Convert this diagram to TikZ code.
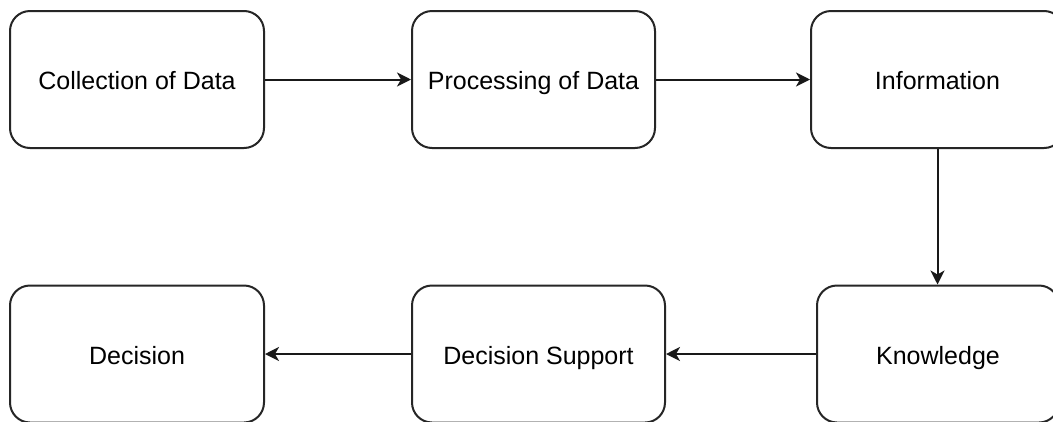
\documentclass[tikz,border=0pt]{standalone}
\usepackage{fontspec}
\setmainfont{Liberation Sans}
\usetikzlibrary{arrows.meta}
\begin{document}
\begin{tikzpicture}[x=1pt,y=-1pt,
  stage/.style={draw=black!85, line width=2pt, rounded corners=20pt, fill=white,
    rectangle, minimum height=137pt, inner sep=0pt, text height=21pt, text depth=1pt,
    font=\fontsize{25pt}{30pt}\selectfont},
  flow/.style={draw=black!90, line width=2pt,
    -{Stealth[length=14pt,width=14pt,inset=4pt]}}]
  \useasboundingbox (0,0) rectangle (1053,421);
  \fill[white] (0,0) rectangle (1053,421);
  % top row
  \node[stage, minimum width=254pt] (collect) at (137,79.5) {Collection of Data};
  \node[stage, minimum width=243pt] (process) at (533.5,79.5) {Processing of Data};
  \node[stage, minimum width=253pt] (info) at (937.5,79.5) {Information};
  % bottom row
  \node[stage, minimum width=254pt] (decision) at (137,354) {Decision};
  \node[stage, minimum width=253pt] (support) at (538.5,354) {Decision Support};
  \node[stage, minimum width=242pt] (know) at (938,354) {Knowledge};
  % connectors
  \draw[flow] (collect) -- (process);
  \draw[flow] (process) -- (info);
  \draw[flow] (info.south) -- (info.south |- know.north);
  \draw[flow] (know) -- (support);
  \draw[flow] (support) -- (decision);
\end{tikzpicture}
\end{document}
